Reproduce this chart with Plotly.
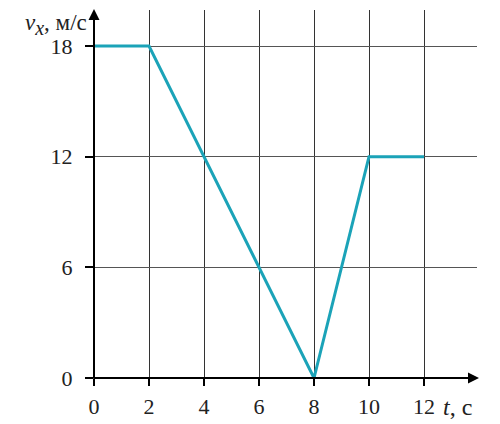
import plotly.graph_objects as go

t_vals = [0, 2, 8, 10, 12]
v_vals = [18, 18, 0, 12, 12]
x_ticks = [0, 2, 4, 6, 8, 10, 12]
y_ticks = [0, 6, 12, 18]

FONT = "Liberation Serif"
OFF = 8  # page body margin
W, H = 500 - OFF, 424 - OFF
L = 94 - OFF
T = 10 - OFF
B = H - (378 - OFF)
R = W - (477 - OFF)
pw, ph = W - L - R, H - T - B
xpx = 27.5    # px per second
ypx = 18.44   # px per m/s

fig = go.Figure()
fig.add_trace(go.Scatter(x=t_vals, y=v_vals, mode="lines",
                         line=dict(color="#1ba3b8", width=3), cliponaxis=False,
                         hoverinfo="skip"))

fig.update_layout(
    width=W, height=H, margin=dict(l=L, r=R, t=T, b=B, autoexpand=False),
    paper_bgcolor="white", plot_bgcolor="white", showlegend=False,
    font=dict(family=FONT, size=22, color="#222"),
    xaxis=dict(range=[0, pw / xpx], tickvals=x_ticks, ticks="outside", ticklen=7,
               tickwidth=2, tickcolor="black", showgrid=True, gridcolor="#333",
               gridwidth=1, zeroline=False, showline=False, fixedrange=True,
               ticklabelstandoff=2),
    yaxis=dict(range=[0, ph / ypx], tickvals=y_ticks, ticks="outside", ticklen=8,
               tickwidth=2, tickcolor="black", showgrid=True, gridcolor="#555",
               gridwidth=1, zeroline=False, showline=False, fixedrange=True,
               ticklabelstandoff=8),
)

# axis arrows
fig.add_annotation(xref="paper", yref="paper", x=(479 - 94) / pw, y=0,
                   axref="pixel", ayref="pixel", ax=-(479 - 94) - 2, ay=0,
                   showarrow=True, arrowhead=2, arrowsize=1.1, arrowwidth=2,
                   arrowcolor="black", text="")
fig.add_annotation(xref="paper", yref="paper", x=0, y=1 + 2 / ph,
                   axref="pixel", ayref="pixel", ax=0, ay=(378 - 8) + 2,
                   showarrow=True, arrowhead=2, arrowsize=1.1, arrowwidth=2,
                   arrowcolor="black", text="")

# axis titles
fig.add_annotation(xref="paper", yref="paper", x=-(94 - 89) / pw, y=1 + 2 / ph,
                   xanchor="right", yanchor="top", showarrow=False,
                   text="<i>v<sub><span style='font-size:20px'>x</span></sub></i>, м/с",
                   font=dict(family=FONT, size=23, color="#222"))
fig.add_annotation(xref="paper", yref="paper", x=(441 - 94) / pw, y=-(14 / ph),
                   xanchor="left", yanchor="top", showarrow=False,
                   text="<i>t</i>, с",
                   font=dict(family=FONT, size=24, color="#222"))

fig.write_html("out.html")
